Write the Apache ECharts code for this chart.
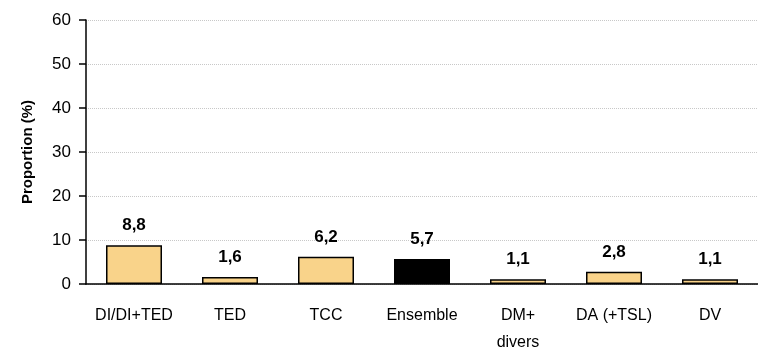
<!DOCTYPE html>
<html><head><meta charset="utf-8">
<script src="https://cdn.jsdelivr.net/npm/echarts@6/dist/echarts.min.js"></script>
<style>html,body{margin:0;padding:0;background:#fff}#c{width:758px;height:348px}</style>
</head><body><div id="c"></div>
<script>
const categories = ['DI/DI+TED', 'TED', 'TCC', 'Ensemble', 'DM+\ndivers', 'DA (+TSL)', 'DV'];
const values = [8.8, 1.6, 6.2, 5.7, 1.1, 2.8, 1.1];
const highlight = 'Ensemble';
const yTicks = [0, 10, 20, 30, 40, 50, 60];

const chart = echarts.init(document.getElementById('c'));
const font = 'Liberation Sans, Arial, sans-serif';
chart.setOption({
  animation: false,
  grid: { left: 86, right: 0, top: 20, bottom: 64, containLabel: false, outerBoundsMode: 'none' },
  xAxis: {
    type: 'category', data: categories,
    axisLine: { lineStyle: { color: '#000', width: 1.5 } },
    axisTick: { show: false },
    axisLabel: { color: '#000', fontSize: 16, fontFamily: font, margin: 18, lineHeight: 27, interval: 0 }
  },
  yAxis: {
    type: 'value', min: yTicks[0], max: yTicks[yTicks.length - 1], interval: 10,
    name: 'Proportion (%)', nameLocation: 'middle', nameGap: 51,
    nameTextStyle: { fontWeight: 'bold', fontSize: 15, fontFamily: font, color: '#000' },
    axisLine: { show: true, lineStyle: { color: '#000', width: 1.5 } },
    axisTick: { show: true, length: 7, lineStyle: { color: '#000', width: 1.5 } },
    axisLabel: { color: '#000', fontSize: 17, fontFamily: font, margin: 15 },
    splitLine: { lineStyle: { color: '#c8c8c8', type: 'dotted', width: 1 } }
  },
  series: [{
    type: 'bar', barWidth: 56,
    data: values.map((v, i) => ({
      value: v,
      itemStyle: { color: categories[i] === highlight ? '#000' : '#F9D38A', borderColor: '#000', borderWidth: 1.5 }
    })),
    label: {
      show: true, position: 'top', distance: 11,
      formatter: p => String(p.value).replace('.', ','),
      fontWeight: 'bold', fontSize: 17, fontFamily: font, color: '#000'
    }
  }]
});
</script></body></html>
